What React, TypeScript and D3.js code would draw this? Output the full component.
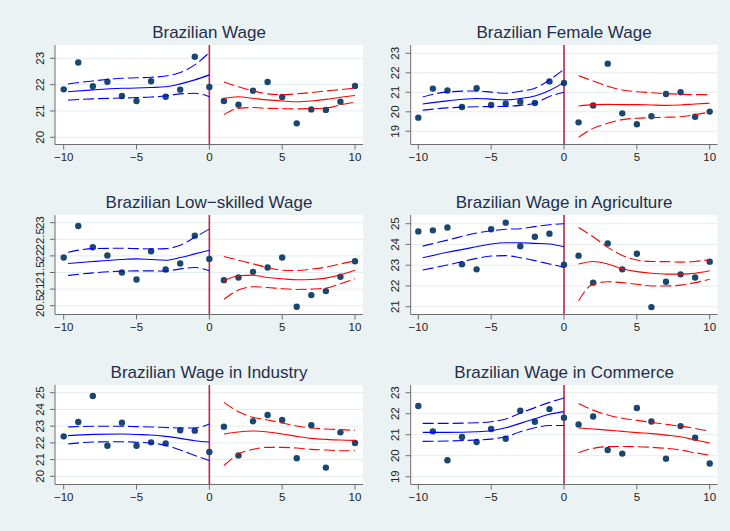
import React from "react";
import * as d3 from "d3";

const titles = [
  "Brazilian Wage",
  "Brazilian Female Wage",
  "Brazilian Low\u2212skilled Wage",
  "Brazilian Wage in Agriculture",
  "Brazilian Wage in Industry",
  "Brazilian Wage in Commerce",
];

const xs = [-10, -9, -8, -7, -6, -5, -4, -3, -2, -1, 0, 1, 2, 3, 4, 5, 6, 7, 8, 9, 10];
const xTicks = [-10, -5, 0, 5, 10];
const leftGrid = [-9.7, -8, -6, -5, -4, -3, -2, -1, 0];
const rightGrid = [1, 2, 3, 4, 5, 6, 7, 8, 9, 10];

const yTickSets = [
  [20, 21, 22, 23],
  [19, 20, 21, 22, 23],
  [20.5, 21, 21.5, 22, 22.5, 23],
  [21, 22, 23, 24, 25],
  [20, 21, 22, 23, 24, 25],
  [19, 20, 21, 22, 23],
];

const points = [
  [21.82, 22.84, 21.94, 22.11, 21.57, 21.38, 22.13, 21.54, 21.81, 23.06, 21.91, 21.38, 21.24, 21.77, 22.1, 21.53, 20.53, 21.06, 21.04, 21.35, 21.95],
  [19.7, 21.19, 21.09, 20.25, 21.21, 20.35, 20.42, 20.52, 20.45, 21.56, 21.48, 19.46, 20.32, 22.47, 19.92, 19.36, 19.77, 20.91, 21.0, 19.75, 20.01],
  [21.95, 22.9, 22.26, 22.01, 21.5, 21.29, 22.14, 21.59, 21.77, 22.61, 21.91, 21.27, 21.35, 21.52, 21.65, 21.95, 20.47, 20.82, 20.94, 21.37, 21.84],
  [24.63, 24.68, 24.82, 23.04, 22.8, 24.73, 25.05, 23.91, 24.37, 24.52, 23.02, 23.46, 22.16, 24.05, 22.8, 23.55, 20.98, 22.2, 22.56, 22.41, 23.17],
  [22.39, 23.25, 24.8, 21.83, 23.21, 21.83, 22.03, 21.97, 22.75, 22.73, 21.45, 22.97, 21.25, 23.29, 23.67, 23.37, 21.08, 23.05, 20.52, 22.63, 21.99],
  [22.37, 21.16, 19.78, 20.89, 20.65, 21.27, 20.81, 22.14, 21.62, 22.22, 21.81, 21.49, 21.87, 20.27, 20.1, 22.27, 21.63, 19.86, 21.41, 20.86, 19.63],
];

const leftFit = [
  [21.73, 21.8, 21.86, 21.87, 21.89, 21.92, 22.03, 22.18, 22.37],
  [20.4, 20.56, 20.68, 20.65, 20.61, 20.68, 20.81, 21.09, 21.51],
  [21.77, 21.83, 21.89, 21.91, 21.89, 21.87, 21.95, 22.06, 22.17],
  [23.36, 23.62, 23.89, 24.02, 24.08, 24.08, 24.05, 24.02, 23.89],
  [22.43, 22.51, 22.53, 22.5, 22.47, 22.39, 22.27, 22.13, 22.05],
  [21.11, 21.11, 21.14, 21.19, 21.33, 21.54, 21.76, 21.97, 22.1],
];
const leftUpper = [
  [22.03, 22.14, 22.24, 22.26, 22.28, 22.33, 22.46, 22.75, 23.22],
  [20.76, 21.02, 21.07, 21.01, 20.95, 21.05, 21.21, 21.63, 22.18],
  [22.11, 22.22, 22.23, 22.22, 22.21, 22.22, 22.32, 22.56, 22.81],
  [23.92, 24.21, 24.55, 24.66, 24.73, 24.76, 24.86, 24.95, 25.0],
  [22.95, 22.99, 22.99, 22.97, 22.95, 22.92, 22.89, 22.89, 23.13],
  [21.54, 21.54, 21.57, 21.62, 21.75, 22.02, 22.29, 22.54, 22.75],
];
const leftLower = [
  [21.41, 21.46, 21.49, 21.51, 21.53, 21.57, 21.65, 21.67, 21.54],
  [20.08, 20.2, 20.26, 20.27, 20.28, 20.33, 20.44, 20.79, 21.0],
  [21.41, 21.49, 21.54, 21.55, 21.55, 21.54, 21.61, 21.65, 21.55],
  [22.77, 23.01, 23.33, 23.44, 23.46, 23.36, 23.22, 23.06, 22.9],
  [21.93, 22.05, 22.07, 22.04, 21.99, 21.85, 21.57, 21.25, 20.94],
  [20.68, 20.7, 20.75, 20.79, 20.9, 21.14, 21.33, 21.44, 21.44],
];
const rightFit = [
  [21.48, 21.54, 21.48, 21.42, 21.38, 21.35, 21.38, 21.44, 21.52, 21.59],
  [20.3, 20.37, 20.38, 20.37, 20.37, 20.35, 20.33, 20.35, 20.4, 20.44],
  [21.25, 21.4, 21.42, 21.35, 21.31, 21.28, 21.29, 21.33, 21.43, 21.57],
  [23.06, 23.18, 23.06, 22.83, 22.69, 22.61, 22.57, 22.57, 22.61, 22.73],
  [22.53, 22.65, 22.71, 22.65, 22.53, 22.39, 22.27, 22.21, 22.17, 22.15],
  [21.32, 21.27, 21.22, 21.16, 21.1, 21.05, 20.98, 20.9, 20.75, 20.6],
];
const rightUpper = [
  [22.1, 21.92, 21.76, 21.65, 21.62, 21.65, 21.7, 21.76, 21.81, 21.87],
  [21.85, 21.58, 21.31, 21.12, 21.03, 20.98, 20.93, 20.9, 20.88, 20.88],
  [21.98, 21.87, 21.76, 21.65, 21.57, 21.56, 21.6, 21.66, 21.76, 21.85],
  [24.82, 24.37, 23.86, 23.47, 23.25, 23.18, 23.17, 23.15, 23.18, 23.27],
  [24.42, 23.86, 23.53, 23.37, 23.19, 23.01, 22.89, 22.83, 22.79, 22.75],
  [22.49, 22.17, 21.94, 21.78, 21.68, 21.59, 21.49, 21.41, 21.3, 21.16],
];
const rightLower = [
  [20.86, 21.1, 21.13, 21.1, 21.09, 21.08, 21.09, 21.11, 21.23, 21.34],
  [18.69, 19.15, 19.41, 19.6, 19.67, 19.7, 19.72, 19.75, 19.85, 19.99],
  [20.69, 20.97, 21.07, 21.05, 21.01, 20.99, 21.0, 21.03, 21.16, 21.31],
  [21.29, 22.09, 22.2, 22.16, 22.08, 22.0, 22.0, 22.04, 22.16, 22.32],
  [20.64, 21.33, 21.61, 21.73, 21.73, 21.69, 21.61, 21.57, 21.53, 21.53],
  [20.14, 20.35, 20.43, 20.44, 20.43, 20.4, 20.35, 20.27, 20.14, 20.02],
];

// layout
const W = 730;
const H = 531;
const colPlot = [
  { left: 55, right: 363, x0: 63.7, x1: 355 },
  { left: 410.7, right: 717.5, x0: 418.3, x1: 709.7 },
];
const rowTop = [45, 215, 385];
const plotH = 99.5;
// pixel offsets (from plot top) of first and last y tick
const tickOffsets = [
  [92.3, 13.3],
  [86.3, 8.3],
  [90.7, 7.7],
  [91.7, 8.7],
  [91.3, 7.7],
  [91.7, 7.7],
];

const BG = "#eaf2f3";
const GRID = "#e4edf0";
const AXIS = "#6e6e6e";
const TEXT = "#222";
const TITLE = "#1f2f4c";
const MARK = "#1a476f";
const FONT = "'Liberation Sans', Arial, Helvetica, sans-serif";

function Panel({ i }: { i: number }) {
  const col = colPlot[i % 2];
  const top = rowTop[Math.floor(i / 2)];
  const bottom = top + plotH;
  const ticks = yTickSets[i];
  const x = d3.scaleLinear().domain([-10, 10]).range([col.x0, col.x1]);
  const y = d3
    .scaleLinear()
    .domain([ticks[0], ticks[ticks.length - 1]])
    .range([top + tickOffsets[i][0], top + tickOffsets[i][1]]);
  const line = d3
    .line<[number, number]>()
    .x((d) => x(d[0]))
    .y((d) => y(d[1]))
    .curve(d3.curveMonotoneX);
  const mk = (gx: number[], vals: number[]) => line(gx.map((g, k) => [g, vals[k]] as [number, number])) || "";
  const dash = "11,4";
  return (
    <g>
      <rect x={col.left} y={top} width={col.right - col.left} height={plotH} fill="#fff" />
      {ticks.map((t) => (
        <line key={"g" + t} x1={col.left} x2={col.right} y1={y(t)} y2={y(t)} stroke={GRID} strokeWidth={1} />
      ))}
      <line x1={x(0)} x2={x(0)} y1={top} y2={bottom} stroke="#b8284a" strokeWidth={1.6} />
      {xs.map((xv, k) => (
        <circle key={"p" + k} cx={x(xv)} cy={y(points[i][k])} r={3.2} fill={MARK} />
      ))}
      <path d={mk(leftGrid, leftFit[i])} fill="none" stroke="#0000ff" strokeWidth={1.1} />
      <path d={mk(leftGrid, leftUpper[i])} fill="none" stroke="#0000ff" strokeWidth={1.1} strokeDasharray={dash} />
      <path d={mk(leftGrid, leftLower[i])} fill="none" stroke="#0000ff" strokeWidth={1.1} strokeDasharray={dash} />
      <path d={mk(rightGrid, rightFit[i])} fill="none" stroke="#ff0000" strokeWidth={1.1} />
      <path d={mk(rightGrid, rightUpper[i])} fill="none" stroke="#ff0000" strokeWidth={1.1} strokeDasharray={dash} />
      <path d={mk(rightGrid, rightLower[i])} fill="none" stroke="#ff0000" strokeWidth={1.1} strokeDasharray={dash} />
      {/* axes */}
      <line x1={col.left} x2={col.left} y1={top} y2={bottom} stroke={AXIS} strokeWidth={1} />
      <line x1={col.left} x2={col.right} y1={bottom} y2={bottom} stroke={AXIS} strokeWidth={1} />
      {ticks.map((t) => (
        <g key={"yt" + t}>
          <line x1={col.left - 5} x2={col.left} y1={y(t)} y2={y(t)} stroke={AXIS} strokeWidth={1} />
          <text
            transform={`translate(${col.left - 11.5},${y(t)}) rotate(-90)`}
            textAnchor="middle"
            fontSize={11.5}
            fontFamily={FONT}
            fill={TEXT}
          >
            {String(t)}
          </text>
        </g>
      ))}
      {xTicks.map((t) => (
        <g key={"xt" + t}>
          <line x1={x(t)} x2={x(t)} y1={bottom} y2={bottom + 5} stroke={AXIS} strokeWidth={1} />
          <text x={x(t)} y={bottom + 16.5} textAnchor="middle" fontSize={11.5} fontFamily={FONT} fill={TEXT}>
            {t < 0 ? "\u2212" + Math.abs(t) : String(t)}
          </text>
        </g>
      ))}
      <text
        x={(col.left + col.right) / 2}
        y={top - 6.7}
        textAnchor="middle"
        fontSize={17}
        fontFamily={FONT}
        fill={TITLE}
      >
        {titles[i]}
      </text>
    </g>
  );
}

export default function App() {
  return (
    <svg
      width={W}
      height={H}
      style={{ position: "absolute", left: 0, top: 0, display: "block" }}
    >
      <rect x={0} y={0} width={W} height={H} fill={BG} />
      {titles.map((_, i) => (
        <Panel key={i} i={i} />
      ))}
    </svg>
  );
}
